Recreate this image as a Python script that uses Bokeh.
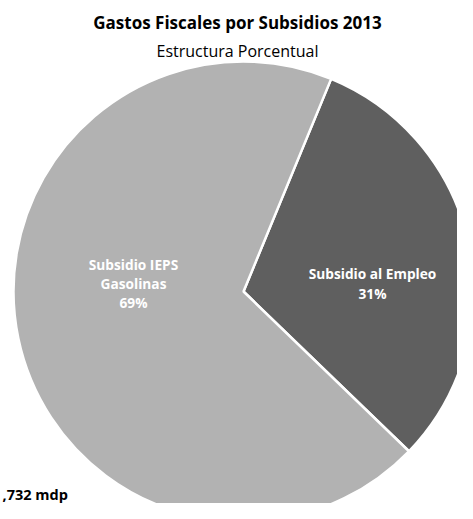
import numpy as np
from bokeh.plotting import figure
from bokeh.models import ColumnDataSource
from bokeh.core.properties import value
from bokeh.embed import file_html
from bokeh.resources import INLINE

categories = ["Subsidio al Empleo", "Subsidio IEPS Gasolinas"]
shares = [31, 69]
colors = ["#5f5f5f", "#b2b2b2"]
title = "Gastos Fiscales por Subsidios 2013"
subtitle = "Estructura Porcentual"
total_note = ",732 mdp"

W, H = 457, 503
def px(x):
    return x
def py(y):
    return H - y

frac = np.array(shares) / sum(shares)
start0 = np.deg2rad(67.6)
ends = start0 - np.cumsum(frac) * 2 * np.pi
starts = np.concatenate([[start0], ends[:-1]])

p = figure(width=W, height=H, x_range=(0, W), y_range=(0, H),
           output_backend="svg", toolbar_location=None, min_border=0)
p.axis.visible = False
p.grid.visible = False
p.outline_line_color = None
p.background_fill_color = "white"

src = ColumnDataSource(dict(start=ends, end=starts, color=colors, cat=categories))
cx, cy, r = px(243), py(291), 230
p.wedge(x=cx, y=cy, radius=r, start_angle="start", end_angle="end",
        fill_color="color", line_color="white", line_width=2.5, source=src)

font = value("Open Sans")
p.text(x=[px(237)], y=[py(22)], text=[title], text_font=font, text_font_size="17px",
       text_font_style="bold", text_align="center", text_baseline="middle", text_color="#000000")
p.text(x=[px(237)], y=[py(50)], text=[subtitle], text_font=font, text_font_size="16px",
       text_align="center", text_baseline="middle", text_color="#000000")

p.text(x=[px(133)] * 3, y=[py(264), py(283), py(302)],
       text=["Subsidio IEPS", "Gasolinas", f"{shares[1]}%"], text_font=font,
       text_font_size="13.7px", text_font_style="bold", text_align="center",
       text_baseline="middle", text_color="white")
p.text(x=[px(372)] * 2, y=[py(273), py(293)],
       text=["Subsidio al Empleo", f"{shares[0]}%"], text_font=font,
       text_font_size="13.7px", text_font_style="bold", text_align="center",
       text_baseline="middle", text_color="white")

p.text(x=[px(2)], y=[py(494)], text=[total_note], text_font=font, text_font_size="14.5px",
       text_font_style="bold", text_align="left", text_baseline="middle", text_color="#000000")

open("out.html", "w").write(file_html(p, INLINE))
